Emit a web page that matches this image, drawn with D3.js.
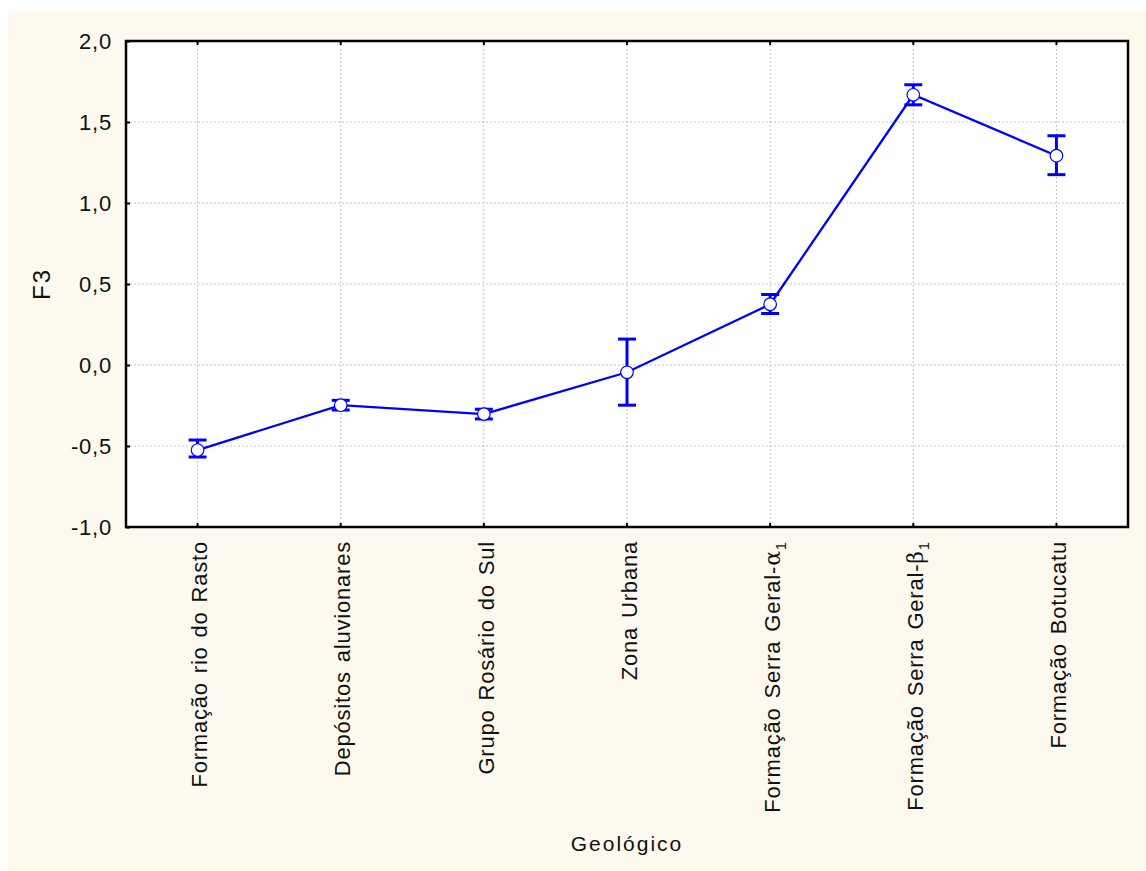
<!DOCTYPE html>
<html><head><meta charset="utf-8">
<script src="https://cdn.jsdelivr.net/npm/d3@7"></script>
<style>body{margin:0;background:#fff;}svg{display:block;}</style>
</head><body>
<script>
const categories = ["Formação rio do Rasto","Depósitos aluvionares","Grupo  Rosário do Sul","Zona Urbana","Formação Serra Geral-α1","Formação Serra Geral-β1","Formação Botucatu"];
const means = [-0.525, -0.248, -0.303, -0.045, 0.375, 1.668, 1.292];
const lower = [-0.568, -0.278, -0.333, -0.248, 0.318, 1.606, 1.175];
const upper = [-0.463, -0.218, -0.273, 0.160, 0.435, 1.730, 1.415];
const yTicks = [-1.0, -0.5, 0.0, 0.5, 1.0, 1.5, 2.0];

const W = 1146, H = 871;
const m = {left:126, right:18, top:41, bottom:344};
const FONT = "Liberation Sans, Arial, sans-serif";
const svg = d3.select("body").append("svg").attr("width", W).attr("height", H);
svg.append("rect").attr("x",8).attr("y",12).attr("width",W-8).attr("height",H-12).attr("fill","#fdf9ef");
const pw = W - m.left - m.right, ph = H - m.top - m.bottom;
const g = svg.append("g").attr("transform",`translate(${m.left},${m.top})`);
g.append("rect").attr("width",pw).attr("height",ph).attr("fill","#fff");

const x = d3.scaleBand().domain(categories).range([0,pw]);
const y = d3.scaleLinear().domain([-1,2]).range([ph,0]);
const cx = c => x(c) + x.bandwidth()/2;

// grid
g.selectAll(".hg").data(yTicks.slice(1,-1)).join("line")
  .attr("x1",0).attr("x2",pw).attr("y1",d=>y(d)).attr("y2",d=>y(d))
  .attr("stroke","#c4c4c4").attr("stroke-dasharray","2,2");
g.selectAll(".vg").data(categories).join("line")
  .attr("x1",d=>cx(d)).attr("x2",d=>cx(d)).attr("y1",0).attr("y2",ph)
  .attr("stroke","#c4c4c4").attr("stroke-dasharray","2,2");

// axes
const fmt = d => d3.format(".1f")(d).replace(".", ",").replace("−","-");
const yAxis = g.append("g").call(d3.axisLeft(y).tickValues(yTicks).tickSize(-4).tickPadding(14).tickFormat(fmt));
yAxis.select(".domain").remove();
yAxis.selectAll("text").attr("font-family",FONT).attr("font-size",22).attr("fill","#111").attr("letter-spacing","0.8");
yAxis.selectAll("line").attr("stroke","#000").attr("stroke-width",2);

const xAxis = g.append("g").attr("transform",`translate(0,${ph})`).call(d3.axisBottom(x).tickSize(-4).tickFormat(""));
xAxis.select(".domain").remove();
xAxis.selectAll("line").attr("stroke","#000").attr("stroke-width",2);
const topTicks = g.append("g").call(d3.axisTop(x).tickSize(-4).tickFormat(""));
topTicks.select(".domain").remove();
topTicks.selectAll("line").attr("stroke","#000").attr("stroke-width",2);

g.append("rect").attr("width",pw).attr("height",ph).attr("fill","none").attr("stroke","#000").attr("stroke-width",2.5);

// x labels
const lab = g.append("g").selectAll("text").data(categories).join("text")
  .attr("transform", d => `translate(${cx(d)+2},${ph+14}) rotate(-90)`)
  .attr("text-anchor","end").attr("dy","0.35em")
  .attr("font-family",FONT).attr("font-size",22).attr("fill","#111")
  .attr("letter-spacing","0.8").attr("word-spacing","2");
lab.each(function(d){
  const t = d3.select(this);
  const mm = d.match(/^(.*)([αβ])1$/);
  if (mm) {
    t.append("tspan").text(mm[1]);
    t.append("tspan").text(mm[2]).attr("font-family","DejaVu Serif, serif");
    t.append("tspan").text("1").attr("font-size",15).attr("dy","6");
  } else t.text(d);
});

// titles
svg.append("text").attr("x", m.left + pw/2).attr("y", 851).attr("text-anchor","middle")
  .attr("font-family",FONT).attr("font-size",21).attr("letter-spacing","2").attr("fill","#111").text("Geológico");
svg.append("text").attr("transform",`translate(50,${m.top+y(0.5)}) rotate(-90)`).attr("text-anchor","middle")
  .attr("font-family",FONT).attr("font-size",24).attr("letter-spacing","2").attr("fill","#111").text("F3");

// data
const blue = "#0000ff";
g.append("path").datum(categories).attr("fill","none").attr("stroke",blue).attr("stroke-width",2.3)
  .attr("d", d3.line().x(d=>cx(d)).y((d,i)=>y(means[i])));
const eb = g.append("g").selectAll("g").data(categories).join("g");
eb.append("line").attr("x1",d=>cx(d)).attr("x2",d=>cx(d)).attr("y1",(d,i)=>y(lower[i])).attr("y2",(d,i)=>y(upper[i])).attr("stroke",blue).attr("stroke-width",3);
eb.append("line").attr("x1",d=>cx(d)-9).attr("x2",d=>cx(d)+9).attr("y1",(d,i)=>y(lower[i])).attr("y2",(d,i)=>y(lower[i])).attr("stroke",blue).attr("stroke-width",3);
eb.append("line").attr("x1",d=>cx(d)-9).attr("x2",d=>cx(d)+9).attr("y1",(d,i)=>y(upper[i])).attr("y2",(d,i)=>y(upper[i])).attr("stroke",blue).attr("stroke-width",3);
g.append("g").selectAll("circle").data(categories).join("circle")
  .attr("cx",d=>cx(d)).attr("cy",(d,i)=>y(means[i])).attr("r",6.3)
  .attr("fill","#fff").attr("stroke",blue).attr("stroke-width",1.2);
</script>
</body></html>
